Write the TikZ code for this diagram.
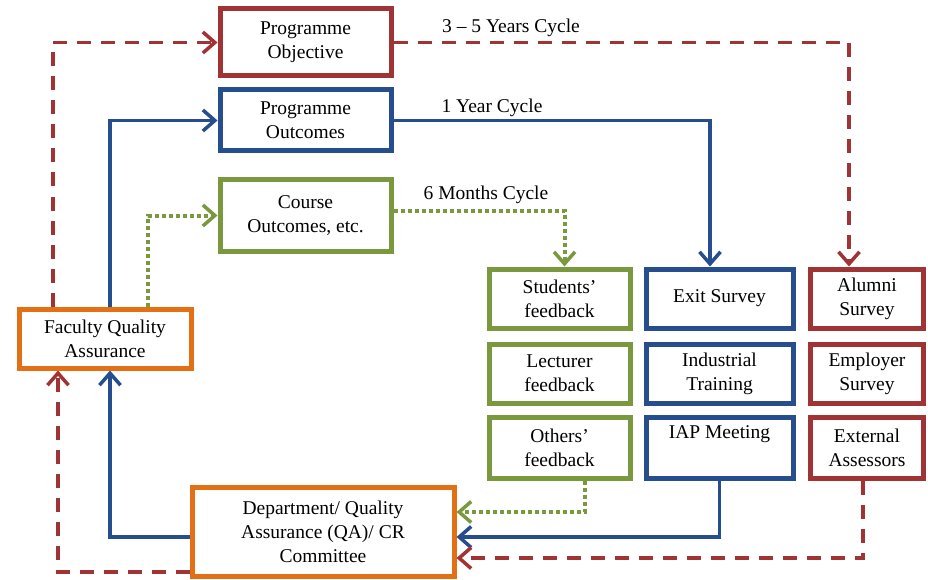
\documentclass[tikz,border=0pt]{standalone}
\usepackage{fontspec}
\setmainfont{Liberation Serif}
\usetikzlibrary{arrows.meta}
\definecolor{cred}{RGB}{160,52,52}
\definecolor{cblue}{RGB}{38,78,142}
\definecolor{cgreen}{RGB}{122,152,62}
\definecolor{corange}{RGB}{228,112,22}
\tikzset{
  box/.style={draw, line width=5pt, align=center, inner sep=2pt, font=\fontsize{19.5}{24}\selectfont},
  lbl/.style={font=\fontsize{19.5}{24}\selectfont, inner sep=0pt},
  rdash/.style={->, cred, line width=3.5pt, dash pattern=on 14pt off 10pt},
  bline/.style={->, cblue, line width=3.5pt},
  gdot/.style={->, cgreen, line width=4pt, dash pattern=on 4pt off 3pt}
}
\begin{document}
\begin{tikzpicture}[x=1pt, y=-1pt, >={Straight Barb[length=12pt,width=21pt,line width=3.5pt]}]
\useasboundingbox (0,0) rectangle (928,580);
% top row
\node[box, cred, minimum width=171pt, minimum height=67pt, text=black] (pobj) at (305.5,42.5) {Programme\\Objective};
\node[box, cblue, minimum width=171pt, minimum height=61pt, text=black] (pout) at (305.5,120.5) {Programme\\Outcomes};
\node[box, cgreen, minimum width=171pt, minimum height=71pt, text=black] (cout) at (305.5,215.5) {Course\\Outcomes, etc.};
% feedback columns
\node[box, cgreen, minimum width=141pt, minimum height=59pt, text=black] (stud) at (559.5,298.5) {Students’\\feedback};
\node[box, cgreen, minimum width=141pt, minimum height=59pt, text=black] (lect) at (559.5,373.5) {Lecturer\\feedback};
\node[box, cgreen, minimum width=141pt, minimum height=61pt, text=black] (oth) at (559.5,447.5) {Others’\\feedback};
\node[box, cblue, minimum width=147pt, minimum height=59pt, text=black] (exit) at (719.5,298.5) {Exit Survey};
\node[box, cblue, minimum width=147pt, minimum height=59pt, text=black] (ind) at (719.5,373.5) {Industrial\\Training};
\node[box, cblue, minimum width=147pt, minimum height=61pt, text=black] (iap) at (719.5,447.5) {IAP Meeting\\\strut};
\node[box, cred, minimum width=113pt, minimum height=59pt, text=black] (alum) at (867,298.5) {Alumni\\Survey};
\node[box, cred, minimum width=113pt, minimum height=59pt, text=black] (emp) at (867,373.5) {Employer\\Survey};
\node[box, cred, minimum width=113pt, minimum height=61pt, text=black] (ext) at (867,447.5) {External\\Assessors};
% QA boxes
\node[box, corange, minimum width=172pt, minimum height=59pt, text=black] (fqa) at (105,338.5) {Faculty Quality\\Assurance};
\node[box, corange, minimum width=262pt, minimum height=89pt, text=black] (dept) at (323,531.5) {Department/ Quality\\Assurance (QA)/ CR\\Committee};
% cycle labels
\node[lbl] (yrs) at (511,28) {3 -- 5 Years Cycle};
\node[lbl] (one) at (492,108) {1 Year Cycle};
\node[lbl] (six) at (486,195) {6 Months Cycle};
% connectors
\draw[rdash] ([xshift=-52pt]fqa.north) |- (pobj.west);
\draw[rdash] (pobj.east) -| ([xshift=-18pt]alum.north);
\draw[bline] ([xshift=5pt]fqa.north) |- (pout.west);
\draw[bline] (pout.east) -| ([xshift=-9.5pt]exit.north);
\draw[gdot] ([xshift=43pt]fqa.north) |- (cout.west);
\draw[gdot] ([yshift=5pt]cout.east) -| ([xshift=5pt]stud.north);
\draw[gdot] ([xshift=25pt]oth.south) |- ([yshift=19.5pt]dept.east);
\draw[bline] (iap.south) |- ([yshift=-5.5pt]dept.east);
\draw[rdash] ([xshift=-4pt]ext.south) |- ([yshift=-26.5pt]dept.east);
\draw[bline] ([yshift=-5.5pt]dept.west) -| ([xshift=5pt]fqa.south);
\draw[rdash] ([yshift=-40.5pt]dept.west) -| ([xshift=-47pt]fqa.south);
\end{tikzpicture}
\end{document}
